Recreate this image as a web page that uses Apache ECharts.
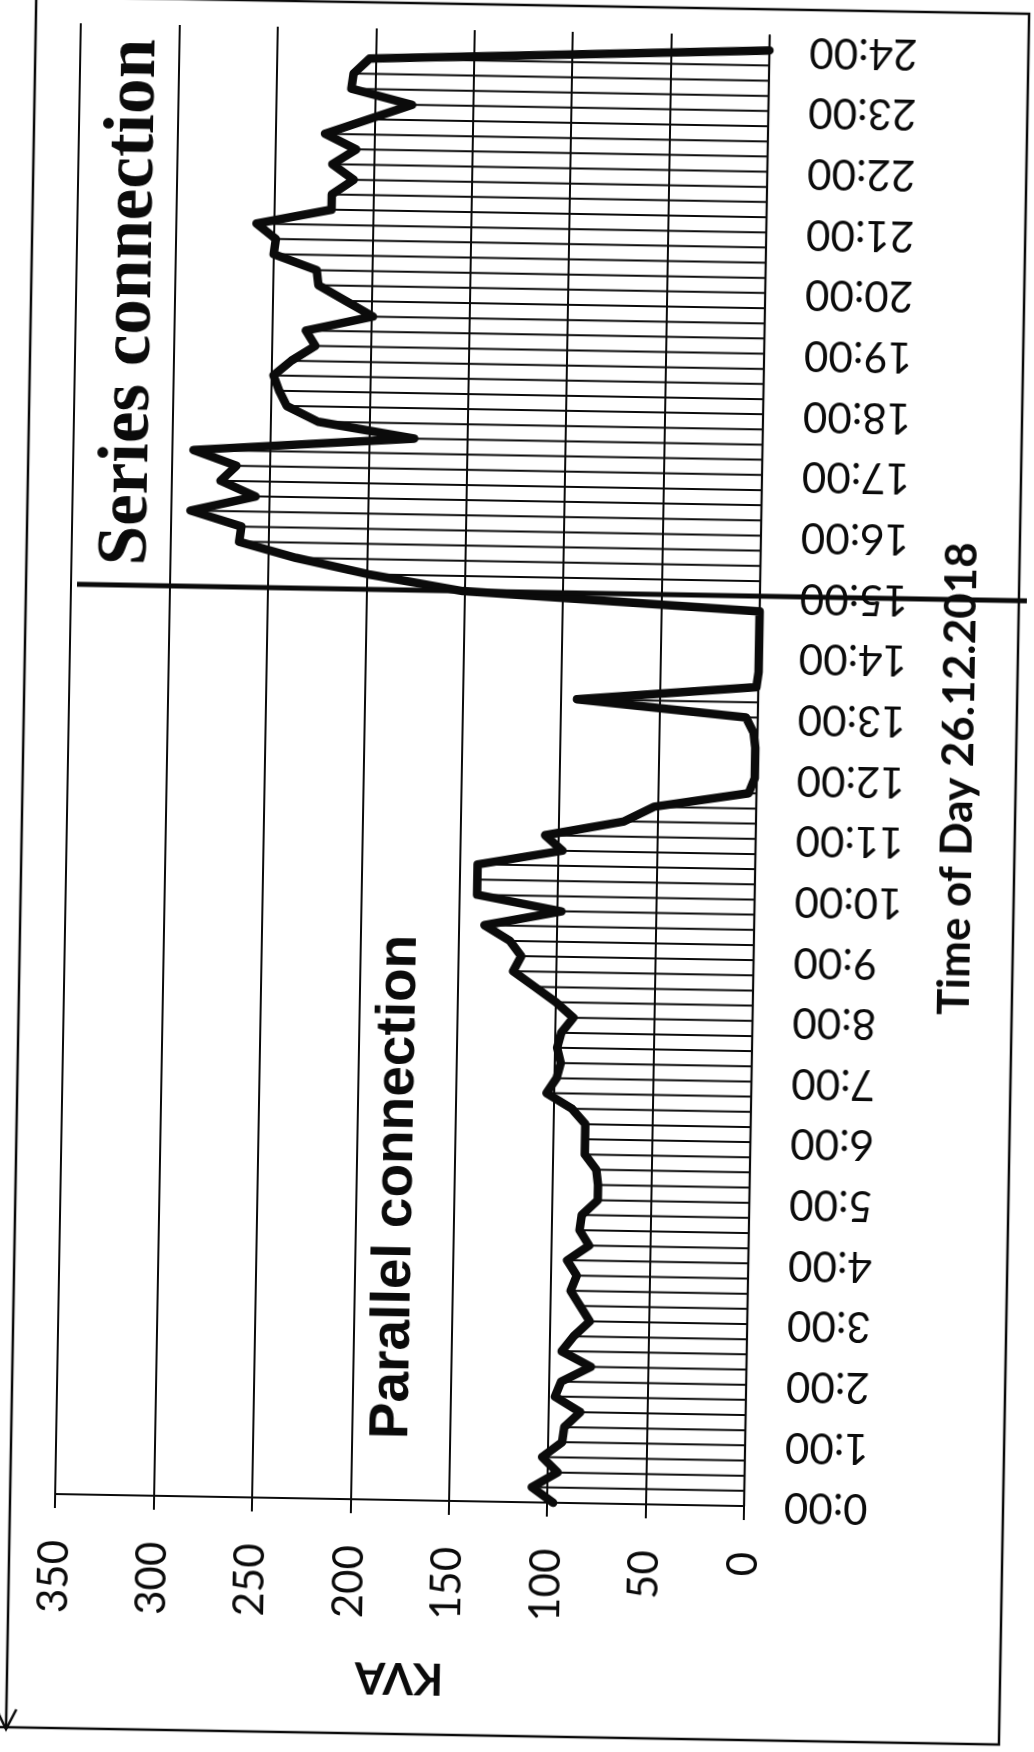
<!DOCTYPE html>
<html>
<head>
<meta charset="utf-8">
<script src="https://cdn.jsdelivr.net/npm/echarts@6/dist/echarts.min.js"></script>
<style>
html,body{margin:0;padding:0;background:#fff;overflow:hidden;}
#chart{width:1034px;height:1752px;transform:rotate(1deg);transform-origin:50% 50%;}
</style>
</head>
<body>
<div id="chart"></div>
<script>
// ---- data ----
const timeOfDay = [
 "0:00","0:15","0:30","0:45","1:00","1:15","1:30","1:45","2:00","2:15","2:30","2:45",
 "3:00","3:15","3:30","3:45","4:00","4:15","4:30","4:45","5:00","5:15","5:30","5:45",
 "6:00","6:15","6:30","6:45","7:00","7:15","7:30","7:45","8:00","8:15","8:30","8:45",
 "9:00","9:15","9:30","9:45","10:00","10:15","10:30","10:45","11:00","11:15","11:30","11:45",
 "12:00","12:15","12:30","12:45","13:00","13:15","13:30","13:45","14:00","14:15","14:30","14:45",
 "15:00","15:15","15:30","15:45","16:00","16:15","16:30","16:45","17:00","17:15","17:30","17:45",
 "18:00","18:15","18:30","18:45","19:00","19:15","19:30","19:45","20:00","20:15","20:30","20:45",
 "21:00","21:15","21:30","21:45","22:00","22:15","22:30","22:45","23:00","23:15","23:30","23:45",
 "24:00"
];
const kva = [
 97,108,95,103,93,92,84,97,94,79,94,88,
 80,85,90,87,92,81,86,85,77,77,78,84,
 84,84,91,104,99,97,99,97,91,100,111,122,
 118,124,137,98,141,141,141,98,107,67,52,4,
 1,1,1,2,6,92,1,0,0,0,0,0,
 151,199,236,265,264,290,257,275,267,289,177,226,
 242,246,249,240,228,233,199,213,227,228,250,249,
 259,221,221,210,221,209,225,203,181,212,211,203,
 0
];
const hourTicks = ["0:00","1:00","2:00","3:00","4:00","5:00","6:00","7:00","8:00","9:00","10:00","11:00",
 "12:00","13:00","14:00","15:00","16:00","17:00","18:00","19:00","20:00","21:00","22:00","23:00","24:00"];
const kvaTicks = [0,50,100,150,200,250,300,350];
const dividerTime = "15:00";
const labelSeries = "Series connection";
const labelParallel = "Parallel connection";
const axisTitleX = "KVA";
const axisTitleY = "Time of Day 26.12.2018";

// ---- build chart ----
const toHours = s => { const p = s.split(':').map(Number); return p[0] + p[1] / 60; };
const points = timeOfDay.map((t, i) => [kva[i], toHours(t)]);

const chart = echarts.init(document.getElementById('chart'), null, {renderer: 'canvas'});
const ink = '#0b0b0b';

chart.setOption({
  backgroundColor: '#ffffff',
  animation: false,
  grid: {left: 66, right: 279, top: 31, bottom: 250},
  xAxis: {
    type: 'value', inverse: true, position: 'bottom',
    min: kvaTicks[0], max: kvaTicks[kvaTicks.length - 1], interval: kvaTicks[1] - kvaTicks[0],
    axisLine: {show: true, lineStyle: {color: ink, width: 2}},
    axisTick: {show: true, inside: false, length: 14, lineStyle: {color: ink, width: 2}},
    splitLine: {show: true, lineStyle: {color: ink, width: 2}},
    axisLabel: {
      rotate: 90, margin: 46, color: ink, fontFamily: 'Lato', fontSize: 42,
      formatter: v => kvaTicks.includes(v) ? String(v) : ''
    }
  },
  yAxis: {
    type: 'value', position: 'right',
    min: 0, max: 24.25, interval: 1,
    axisLine: {show: true, onZero: false, lineStyle: {color: ink, width: 2.2}},
    axisTick: {show: false},
    splitLine: {show: false},
    axisLabel: {
      rotate: 180, margin: 40, color: ink, fontFamily: 'Lato', fontSize: 42,
      showMaxLabel: false,
      formatter: v => (Number.isInteger(v) && hourTicks[v] !== undefined) ? hourTicks[v] : ''
    }
  },
  series: [
    {
      type: 'custom', name: 'drop lines', data: points, clip: false, silent: true, z: 1,
      encode: {x: 0, y: 1},
      renderItem: function (params, api) {
        const v = api.value(0), t = api.value(1);
        const a = api.coord([0, t]);
        const b = api.coord([v, t]);
        return {type: 'line', shape: {x1: a[0], y1: a[1], x2: b[0], y2: b[1]},
                style: {stroke: ink, lineWidth: 2}};
      }
    },
    {
      type: 'line', name: 'KVA', data: points, symbol: 'none', clip: false, z: 5,
      lineStyle: {color: ink, width: 8.5, join: 'round', cap: 'round'}
    }
  ]
});

// ---- annotations positioned from the axes ----
const grid0 = {gridIndex: 0};
const pDiv = chart.convertToPixel(grid0, [kvaTicks[kvaTicks.length - 1], toHours(dividerTime)]);

chart.setOption({
  graphic: [
    // 15:00 divider
    {type: 'line', z: 10, shape: {x1: pDiv[0] + 6, y1: pDiv[1], x2: 1022, y2: pDiv[1]},
     style: {stroke: ink, lineWidth: 5}},
    // texts
    {type: 'text', x: 122, y: 309, rotation: Math.PI / 2, z: 20,
     style: {text: labelSeries, fill: ink, font: 'bold 71px "Liberation Serif"', align: 'center', verticalAlign: 'middle'}},
    {type: 'text', x: 402, y: 1189, rotation: Math.PI / 2, z: 20,
     style: {text: labelParallel, fill: ink, font: 'bold 55px "Liberation Sans"', align: 'center', verticalAlign: 'middle'}},
    {type: 'text', x: 957, y: 771, rotation: Math.PI / 2, z: 20,
     style: {text: axisTitleY, fill: ink, font: 'bold 44px Lato', align: 'center', verticalAlign: 'middle'}},
    {type: 'text', x: 413, y: 1679, rotation: Math.PI, z: 20,
     style: {text: axisTitleX, fill: ink, font: 'bold 44px Lato', align: 'center', verticalAlign: 'middle'}},
    // page frame
    {type: 'polyline', z: 0, shape: {points: [[21, 5], [1014, 5], [1014, 1736], [0, 1736]]},
     style: {stroke: ink, lineWidth: 2.5, fill: null}},
    {type: 'polyline', z: 0, shape: {points: [[21, 5], [21, 1738]]},
     style: {stroke: ink, lineWidth: 2.5, fill: null}},
    {type: 'polyline', z: 0, shape: {points: [[11, 1718], [21, 1738], [31, 1718]]},
     style: {stroke: ink, lineWidth: 2.5, fill: null}}
  ]
});
</script>
</body>
</html>
